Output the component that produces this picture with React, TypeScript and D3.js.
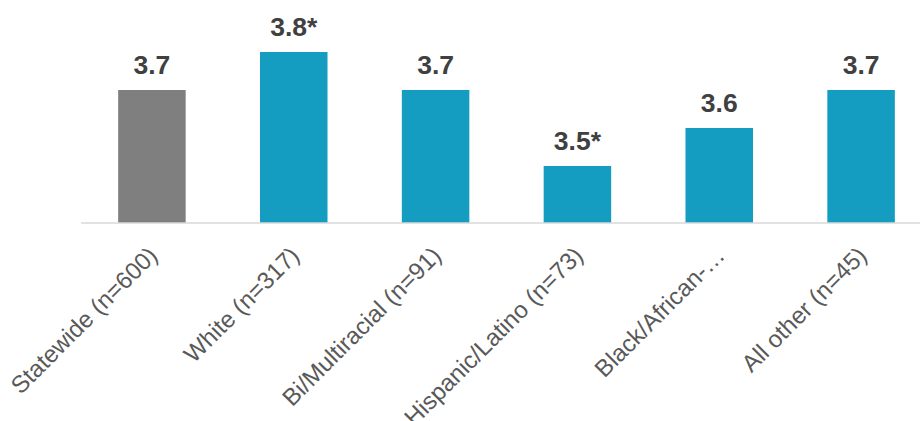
import { useEffect } from 'react';
import * as d3 from 'd3';

const WIDTH = 920;
const HEIGHT = 421;

const categories = [
    'Statewide (n=600)',
    'White (n=317)',
    'Bi/Multiracial (n=91)',
    'Hispanic/Latino (n=73)',
    'Black/African-…',
    'All other (n=45)',
];
const values = [3.7, 3.8, 3.7, 3.5, 3.6, 3.7];
const significant = [false, true, false, true, false, false];

const BAR_COLOR = '#149dc1';
const STATEWIDE_COLOR = '#7f7f7f';
const FONT = '"Liberation Sans", Arial, sans-serif';

const BarChart = () => {
    // band: 6 equal steps starting where the axis line begins
    const xScale = d3
        .scaleBand()
        .domain(categories)
        .range([81, 932])
        .paddingInner(0.524)
        .paddingOuter(0.262);

    const yScale = d3.scaleLinear().domain([3.35, 3.85]).range([223, 33]);
    const baseline = yScale(3.35);

    const bars = categories.map((c, i) => {
        const x = xScale(c);
        if (x === undefined) return null;
        const cx = x + xScale.bandwidth() / 2;
        const label = values[i].toFixed(1) + (significant[i] ? '*' : '');
        return (
            <g key={c}>
                <rect
                    x={x}
                    y={yScale(values[i])}
                    width={xScale.bandwidth()}
                    height={baseline - yScale(values[i])}
                    fill={i === 0 ? STATEWIDE_COLOR : BAR_COLOR}
                />
                <text
                    x={cx}
                    y={yScale(values[i]) - 16.5}
                    textAnchor="middle"
                    fontSize={26.5}
                    fontWeight="bold"
                    fill="#404040"
                >
                    {label}
                </text>
                <text
                    transform={`translate(${cx + 1},${baseline + 28}) rotate(-45)`}
                    textAnchor="end"
                    dominantBaseline="central"
                    fontSize={24}
                    fill="#595959"
                >
                    {c}
                </text>
            </g>
        );
    });

    return (
        <svg width={WIDTH} height={HEIGHT} style={{ display: 'block', fontFamily: FONT }}>
            {bars}
            <line x1={81} x2={WIDTH} y1={baseline} y2={baseline} stroke="#d9d9d9" strokeWidth={1.5} />
        </svg>
    );
};

export default function App() {
    useEffect(() => {
        document.body.style.margin = '0';
        document.body.style.overflow = 'hidden';
    }, []);
    return <BarChart />;
}
